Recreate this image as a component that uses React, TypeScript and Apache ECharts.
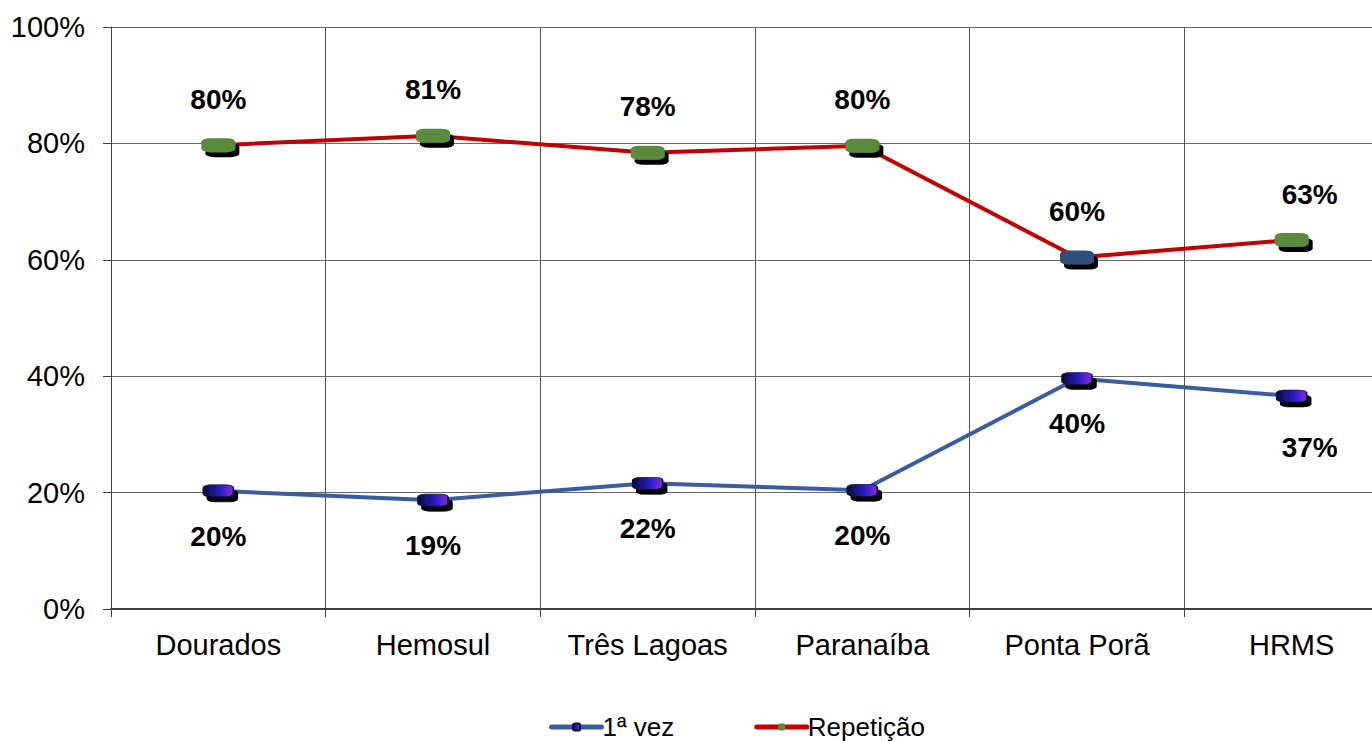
import React, { useEffect, useRef } from "react";
import * as echarts from "echarts";

const categories = ["Dourados", "Hemosul", "Três Lagoas", "Paranaíba", "Ponta Porã", "HRMS"];
const primeiraVez = [20.3, 18.7, 21.6, 20.4, 39.6, 36.6];
const repeticao = [79.7, 81.3, 78.4, 79.6, 60.4, 63.4];
const yTicks = [0, 20, 40, 60, 80, 100];

const FONT = "'Liberation Sans', Arial, sans-serif";

export default function App() {
  const ref = useRef<HTMLDivElement>(null);
  useEffect(() => {
    if (!ref.current) return;
    const chart = echarts.init(ref.current, undefined, { renderer: "svg" });
    const blueGrad = new echarts.graphic.LinearGradient(0, 0, 1, 0, [
      { offset: 0, color: "#0a0a3a" },
      { offset: 0.6, color: "#2a20c8" },
      { offset: 1, color: "#8a2ad8" },
    ]);
    const lbl = (pos: "top" | "bottom") => ({
      show: true,
      position: pos,
      distance: 25,
      fontFamily: FONT,
      fontSize: 28,
      fontWeight: "bold" as const,
      color: "#000",
      formatter: (p: any) => Math.round(p.value) + "%",
    });
    chart.setOption({
      animation: false,
      backgroundColor: "#fff",
      grid: { left: 111, top: 27, bottom: 132, right: 0, containLabel: false },
      legend: {
        top: 709,
        left: 544,
        itemWidth: 50,
        itemHeight: 9,
        itemGap: 80,
        lineStyle: { width: 5, cap: "round" },
        textStyle: { fontFamily: FONT, fontSize: 26, color: "#000", padding: [0, 0, 0, -4] },
        data: ["1ª vez", "Repetição"],
      },
      xAxis: {
        type: "category",
        data: categories,
        boundaryGap: true,
        axisLine: { lineStyle: { color: "#404040", width: 2 } },
        axisTick: { show: true, interval: 0, length: 8, lineStyle: { color: "#404040" } },
        splitLine: { show: true, interval: 0, lineStyle: { color: "#555", width: 1 } },
        axisLabel: { interval: 0, fontFamily: FONT, fontSize: 29, color: "#000", margin: 21 },
      },
      yAxis: {
        type: "value",
        min: 0,
        max: 100,
        interval: 20,
        axisLine: { show: true, lineStyle: { color: "#404040", width: 1 } },
        axisTick: { show: true, length: 8, lineStyle: { color: "#404040" } },
        splitLine: { show: true, lineStyle: { color: "#6a6a6a", width: 1 } },
        axisLabel: {
          fontFamily: FONT,
          fontSize: 29,
          color: "#000",
          margin: 26,
          formatter: (v: number) => (yTicks.includes(v) ? v + "%" : ""),
        },
      },
      series: [
        {
          name: "1ª vez",
          type: "line",
          data: primeiraVez.map((v, i) =>
            i === 5 ? { value: v, label: { offset: [18, 6] } } : v
          ),
          lineStyle: { color: "#3a5ca0", width: 4 },
          symbol: "roundRect",
          symbolSize: [30, 12],
          itemStyle: {
            color: blueGrad,
            borderColor: "#0a0a3a",
            borderWidth: 1,
            shadowColor: "#000",
            shadowOffsetX: 4,
            shadowOffsetY: 5,
            shadowBlur: 0,
          },
          label: lbl("bottom"),
          z: 3,
        },
        {
          name: "Repetição",
          type: "line",
          data: repeticao.map((v, i) =>
            i === 4
              ? { value: v, itemStyle: { color: "#2d4d7a" } }
              : i === 5
              ? { value: v, label: { offset: [18, 0] } }
              : v
          ),
          lineStyle: { color: "#c00000", width: 4 },
          symbol: "roundRect",
          symbolSize: [34, 14],
          itemStyle: {
            color: "#5a8a3a",
            shadowColor: "#000",
            shadowOffsetX: 4,
            shadowOffsetY: 5,
            shadowBlur: 0,
          },
          label: lbl("top"),
          z: 3,
        },
      ],
    });
    return () => chart.dispose();
  }, []);
  return (
    <div
      style={{
        position: "absolute",
        left: 0,
        top: 0,
        width: 1372,
        height: 741,
        overflow: "hidden",
        background: "#fff",
      }}
    >
      <div ref={ref} style={{ width: 1399, height: 741 }} />
    </div>
  );
}
